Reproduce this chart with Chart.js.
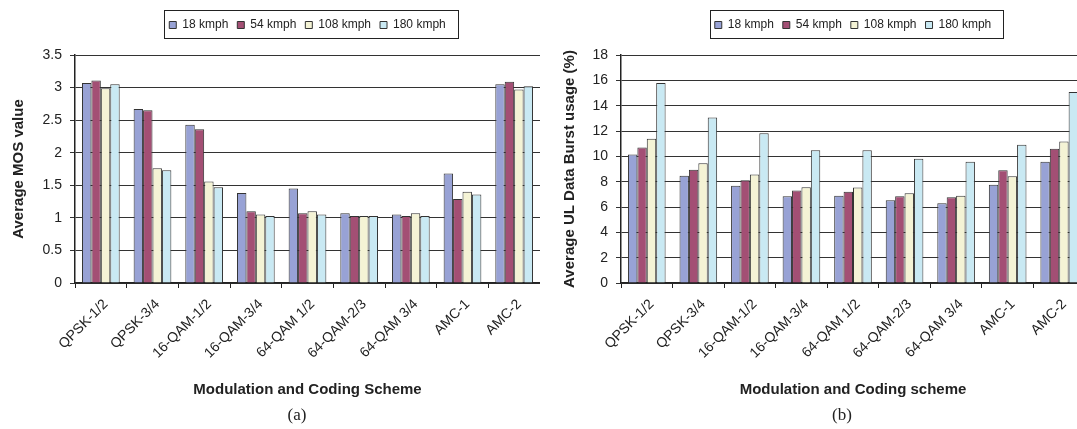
<!DOCTYPE html>
<html lang="en">
<head>
<meta charset="UTF-8">
<title>MOS and UL Data Burst usage</title>
<script src="https://cdn.jsdelivr.net/npm/chart.js"></script>
<style>
  html, body { margin: 0; padding: 0; background: #fff; }
  body { width: 1077px; height: 429px; position: relative; overflow: hidden; }
  .panel { position: absolute; top: 0; height: 429px; }
  #left { left: 0; width: 540px; }
  #right { left: 540px; width: 560px; }
  .caption { position: absolute; top: 405px; width: 60px; margin-left: -30px; text-align: center;
             font-family: "Liberation Serif", "Times New Roman", serif; font-size: 17px; color: #222; }
</style>
</head>
<body>
<div class="panel" id="left"><canvas id="mosChart"></canvas></div>
<div class="panel" id="right"><canvas id="burstChart"></canvas></div>
<div class="caption" style="left:297px">(a)</div>
<div class="caption" style="left:842px">(b)</div>

<script>
const categories = ['QPSK-1/2', 'QPSK-3/4', '16-QAM-1/2', '16-QAM-3/4', '64-QAM 1/2', '64-QAM-2/3', '64-QAM 3/4', 'AMC-1', 'AMC-2'];
const speeds = ['18 kmph', '54 kmph', '108 kmph', '180 kmph'];
const fills = ['#98a2d5', '#a34f74', '#f4f3d5', '#c9e9f3'];

// (a) average MOS value
const mos18  = [3.07, 2.67, 2.43, 1.38, 1.45, 1.07, 1.05, 1.68, 3.05];
const mos54  = [3.11, 2.65, 2.36, 1.10, 1.07, 1.03, 1.03, 1.29, 3.09];
const mos108 = [2.99, 1.76, 1.56, 1.05, 1.10, 1.03, 1.07, 1.40, 2.97];
const mos180 = [3.05, 1.73, 1.47, 1.03, 1.05, 1.03, 1.03, 1.36, 3.02];

// (b) average UL data burst usage, %
const burst18  = [10.15, 8.46, 7.67, 6.85, 6.88, 6.54, 6.30, 7.75, 9.57];
const burst54  = [10.70, 8.94, 8.12, 7.30, 7.20, 6.85, 6.77, 8.91, 10.60];
const burst108 = [11.39, 9.46, 8.57, 7.56, 7.54, 7.09, 6.88, 8.43, 11.18];
const burst180 = [15.79, 13.07, 11.83, 10.49, 10.49, 9.80, 9.57, 10.91, 15.08];

Chart.defaults.font.family = '"Liberation Sans", Arial, sans-serif';
Chart.defaults.color = '#222';

// legend sits in a framed box, with some room under it
const legendFrame = {
    id: 'legendFrame',
    afterInit(chart) {
        const legend = chart.legend;
        const fit = legend.fit;
        legend.fit = function () { fit.call(this); this.height = 45; };
    },
    afterDraw(chart) {
        const boxes = chart.legend.legendHitBoxes;
        if (!boxes || !boxes.length) return;
        const first = boxes[0];
        const last = boxes[boxes.length - 1];
        const x0 = Math.round(first.left - 5) + 0.5;
        const x1 = Math.round(last.left + last.width + 12) + 0.5;
        const ctx = chart.ctx;
        ctx.save();
        ctx.strokeStyle = '#222';
        ctx.lineWidth = 1;
        ctx.strokeRect(x0, 10.5, x1 - x0, 28);
        ctx.restore();
    }
};

function makeChart(id, series, o) {
    new Chart(document.getElementById(id), {
        type: 'bar',
        data: {
            labels: categories,
            datasets: series.map((values, i) => ({
                label: speeds[i],
                data: values,
                backgroundColor: fills[i],
                borderColor: '#333',
                borderWidth: 1,
                categoryPercentage: 0.73,
                barPercentage: 1.0
            }))
        },
        options: {
            responsive: true,
            maintainAspectRatio: false,
            animation: false,
            layout: { padding: { top: 10, left: 0, right: o.padRight, bottom: 25 } },
            plugins: {
                tooltip: { enabled: false },
                legend: {
                    position: 'top',
                    fullSize: false,
                    labels: {
                        boxWidth: 7,
                        boxHeight: 7,
                        padding: 9,
                        font: { size: 12 },
                        color: '#222'
                    }
                }
            },
            scales: {
                x: {
                    grid: { drawOnChartArea: false, drawTicks: true, tickLength: 5, color: '#222', offset: true },
                    border: { color: '#222', width: 1.5 },
                    ticks: { minRotation: 45, maxRotation: 45, font: { size: 14 }, color: '#222', padding: 8, labelOffset: 5 },
                    title: {
                        display: true,
                        text: o.xTitle,
                        font: { size: 15, weight: 'bold' },
                        color: '#222',
                        padding: { top: 0, bottom: 5 }
                    },
                    afterFit(scale) { scale.height = 121; }
                },
                y: {
                    min: 0,
                    max: o.max,
                    grid: { color: '#333', lineWidth: 1, tickLength: 5 },
                    border: { color: '#222', width: 1.5 },
                    ticks: {
                        stepSize: o.step,
                        padding: 8,
                        font: { size: 14 },
                        color: '#222',
                        callback: v => String(Math.round(v * 10) / 10)
                    },
                    title: {
                        display: true,
                        text: o.yTitle,
                        font: { size: 15, weight: 'bold' },
                        color: '#222',
                        padding: { top: o.titlePad, bottom: 0 }
                    },
                    afterFit(scale) { scale.width = o.axisWidth; }
                }
            }
        },
        plugins: [legendFrame]
    });
}

makeChart('mosChart', [mos18, mos54, mos108, mos180], {
    max: 3.5, step: 0.5,
    yTitle: 'Average MOS value',
    xTitle: 'Modulation and Coding Scheme',
    axisWidth: 75, titlePad: 10, padRight: 0
});

makeChart('burstChart', [burst18, burst54, burst108, burst180], {
    max: 18, step: 2,
    yTitle: 'Average UL Data Burst usage (%)',
    xTitle: 'Modulation and Coding scheme',
    axisWidth: 81, titlePad: 21, padRight: 15
});
</script>
</body>
</html>
